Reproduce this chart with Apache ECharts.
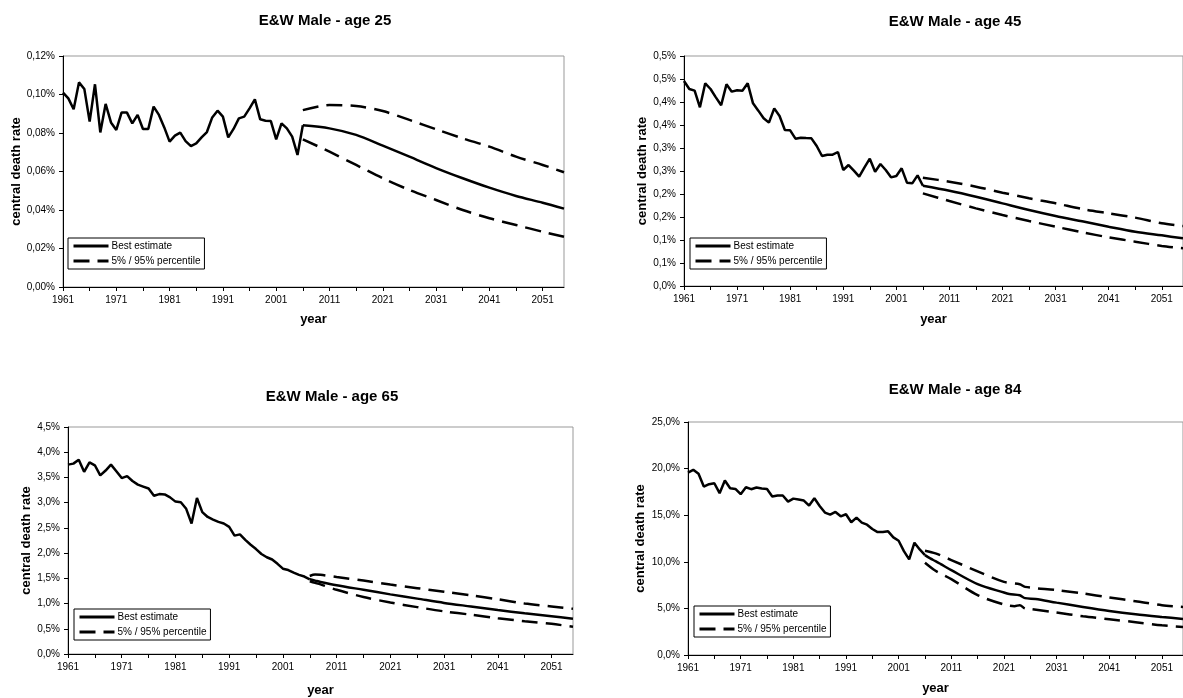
<!DOCTYPE html>
<html>
<head>
<meta charset="utf-8">
<title>E&amp;W Male - central death rate</title>
<script src="https://cdn.jsdelivr.net/npm/echarts@6/dist/echarts.min.js"></script>
<style>
  html, body { margin: 0; padding: 0; background: #fff; }
  #chart { width: 1183px; height: 698px; }
</style>
</head>
<body>
<div id="chart"></div>
<script>
// year categories 1961 - 2055
const years = [];
for (let y = 1961; y <= 2055; y++) years.push(String(y));

// observed rates 1961-2005 (in %)
const hist25 = [
  0.1010, 0.0980, 0.0923, 0.1063, 0.1029, 0.0859, 0.1053, 0.0803, 0.0951, 0.0855,
  0.0816, 0.0907, 0.0906, 0.0850, 0.0894, 0.0821, 0.0821, 0.0937, 0.0894, 0.0829,
  0.0755, 0.0786, 0.0802, 0.0758, 0.0732, 0.0746, 0.0777, 0.0805, 0.0881, 0.0916,
  0.0885, 0.0777, 0.0821, 0.0876, 0.0885, 0.0928, 0.0975, 0.0871, 0.0864, 0.0862,
  0.0767, 0.0850, 0.0824, 0.0781, 0.0686
];
// projections [year, %]
const best25 = [[2006, 0.0840], [2011, 0.0824], [2016, 0.0790], [2021, 0.0734], [2026, 0.0677],
  [2031, 0.0618], [2036, 0.0565], [2041, 0.0516], [2046, 0.0473], [2051, 0.0438], [2055, 0.0407]];
const upper25 = [[2006, 0.0919], [2011, 0.0945], [2016, 0.0940], [2021, 0.0914], [2026, 0.0868],
  [2031, 0.0819], [2036, 0.0772], [2041, 0.0729], [2046, 0.0677], [2051, 0.0634], [2055, 0.0596]];
const lower25 = [[2006, 0.0767], [2011, 0.0703], [2016, 0.0634], [2021, 0.0565], [2026, 0.0504],
  [2031, 0.0452], [2036, 0.0400], [2041, 0.0357], [2046, 0.0322], [2051, 0.0287], [2055, 0.0261]];

const hist45 = [
  0.4457, 0.4283, 0.4246, 0.3884, 0.4406, 0.4283, 0.4101, 0.3928, 0.4384, 0.4225,
  0.4254, 0.4246, 0.4406, 0.3971, 0.3812, 0.3645, 0.3551, 0.3862, 0.3696, 0.3391,
  0.3384, 0.3203, 0.3225, 0.3217, 0.3210, 0.3043, 0.2826, 0.2855, 0.2855, 0.2913,
  0.2522, 0.2630, 0.2507, 0.2377, 0.2580, 0.2768, 0.2485, 0.2652, 0.2522, 0.2362,
  0.2391, 0.2558, 0.2246, 0.2232, 0.2406
];
const best45 = [[2006, 0.2180], [2011, 0.2072], [2016, 0.1942], [2021, 0.1797], [2026, 0.1652],
  [2031, 0.1522], [2036, 0.1406], [2041, 0.1290], [2046, 0.1181], [2051, 0.1101], [2055, 0.1036]];
const upper45 = [[2006, 0.2355], [2011, 0.2268], [2016, 0.2159], [2021, 0.2029], [2026, 0.1906],
  [2031, 0.1797], [2036, 0.1674], [2041, 0.1580], [2046, 0.1486], [2051, 0.1362], [2055, 0.1304]];
const lower45 = [[2006, 0.2014], [2011, 0.1848], [2016, 0.1688], [2021, 0.1543], [2026, 0.1413],
  [2031, 0.1290], [2036, 0.1167], [2041, 0.1058], [2046, 0.0964], [2051, 0.0870], [2055, 0.0819]];

const hist65 = [
  3.754, 3.774, 3.851, 3.611, 3.799, 3.741, 3.540, 3.637, 3.754, 3.624,
  3.488, 3.527, 3.429, 3.358, 3.319, 3.280, 3.137, 3.170, 3.163, 3.105,
  3.021, 3.008, 2.878, 2.586, 3.092, 2.813, 2.716, 2.664, 2.619, 2.586,
  2.521, 2.346, 2.372, 2.262, 2.165, 2.080, 1.983, 1.918, 1.873, 1.788,
  1.691, 1.665, 1.613, 1.568, 1.535
];
const best65 = [[2006, 1.481], [2007, 1.455], [2008, 1.429], [2011, 1.364], [2016, 1.273], [2021, 1.182],
  [2026, 1.098], [2031, 1.013], [2036, 0.942], [2041, 0.871], [2046, 0.806], [2051, 0.747], [2055, 0.701]];
const upper65 = [[2006, 1.547], [2007, 1.575], [2008, 1.570], [2011, 1.527], [2016, 1.455], [2021, 1.377],
  [2026, 1.305], [2031, 1.234], [2036, 1.163], [2041, 1.085], [2046, 1.001], [2051, 0.942], [2055, 0.896]];
const lower65 = [[2006, 1.440], [2007, 1.410], [2008, 1.380], [2011, 1.273], [2016, 1.130], [2021, 1.020],
  [2026, 0.929], [2031, 0.845], [2036, 0.779], [2041, 0.708], [2046, 0.650], [2051, 0.598], [2055, 0.540]];

const hist84 = [
  19.58, 19.87, 19.44, 18.07, 18.33, 18.43, 17.36, 18.72, 17.89, 17.82,
  17.25, 18.00, 17.79, 17.97, 17.86, 17.82, 17.00, 17.11, 17.11, 16.46,
  16.78, 16.68, 16.57, 16.03, 16.82, 15.99, 15.28, 15.06, 15.35, 14.88,
  15.10, 14.24, 14.74, 14.20, 13.98, 13.52, 13.19, 13.19, 13.27, 12.62,
  12.26, 11.15, 10.26, 12.05, 11.33
];
const best84 = [[2006, 10.72], [2007, 10.36], [2008, 10.07], [2009, 9.75], [2011, 9.10], [2016, 7.60],
  [2021, 6.70], [2022, 6.55], [2024, 6.41], [2025, 6.10], [2027, 6.02], [2031, 5.62], [2036, 5.16],
  [2041, 4.73], [2046, 4.37], [2051, 4.08], [2055, 3.87]];
const upper84 = [[2006, 11.19], [2008, 10.90], [2011, 10.19], [2016, 8.97], [2021, 7.85], [2024, 7.60],
  [2025, 7.31], [2031, 6.96], [2036, 6.60], [2041, 6.17], [2046, 5.77], [2051, 5.34], [2055, 5.16]];
const lower84 = [[2006, 9.90], [2008, 9.04], [2011, 8.14], [2016, 6.42], [2021, 5.42], [2023, 5.24],
  [2024, 5.35], [2025, 4.99], [2026, 4.95], [2031, 4.56], [2036, 4.16], [2041, 3.84], [2046, 3.52],
  [2051, 3.19], [2055, 3.01]];

const FONT = 'Arial, "Liberation Sans", sans-serif';
const BEST = 'Best estimate';
const PCT = '5% / 95% percentile';

// layout of the four panels
const panels = [
  { title: 'E&W Male - age 25', hist: hist25, best: best25, upper: upper25, lower: lower25,
    max: 0.12, step: 0.02, dec: 2,
    grid: { left: 63, top: 56, width: 501, height: 231 },
    titleX: 325, titleY: 13, legendX: 68, legendY: 238, gapY: 40, gapX: 26 },
  { title: 'E&W Male - age 45', hist: hist45, best: best45, upper: upper45, lower: lower45,
    max: 0.5, step: 0.05, dec: 1,
    grid: { left: 684, top: 56, width: 501, height: 230 },
    titleX: 955, titleY: 14, legendX: 690, legendY: 238, gapY: 35, gapX: 27 },
  { title: 'E&W Male - age 65', hist: hist65, best: best65, upper: upper65, lower: lower65,
    max: 4.5, step: 0.5, dec: 1,
    grid: { left: 68, top: 427, width: 505, height: 231 },
    titleX: 332, titleY: 389, legendX: 74, legendY: 609, gapY: 35, gapX: 30 },
  { title: 'E&W Male - age 84', hist: hist84, best: best84, upper: upper84, lower: lower84,
    max: 25, step: 5, dec: 1,
    grid: { left: 688, top: 422, width: 501, height: 233 },
    titleX: 955, titleY: 382, legendX: 694, legendY: 606, gapY: 41, gapX: 27 }
];

const pairs = arr => arr.map(p => [String(p[0]), p[1]]);

// 0,12% style labels (Excel rounds half up)
function pctLabel(dec) {
  const f = Math.pow(10, dec);
  return v => (Math.round(v * f + 1e-9) / f).toFixed(dec).replace('.', ',') + '%';
}

const option = {
  animation: false,
  backgroundColor: '#fff',
  textStyle: { fontFamily: FONT, color: '#000' },
  title: [], grid: [], xAxis: [], yAxis: [], legend: [], series: []
};

panels.forEach((p, i) => {
  option.title.push({
    text: p.title, left: p.titleX, top: p.titleY, textAlign: 'center', padding: 0,
    textStyle: { fontFamily: FONT, fontSize: 15, fontWeight: 'bold', color: '#000' }
  });
  option.grid.push(Object.assign({
    show: true, borderColor: '#999', borderWidth: 1, backgroundColor: 'transparent'
  }, p.grid));
  option.xAxis.push({
    type: 'category', gridIndex: i, data: years, boundaryGap: false,
    name: 'year', nameLocation: 'middle', nameGap: p.gapX,
    nameTextStyle: { fontFamily: FONT, fontSize: 13, fontWeight: 'bold', color: '#000' },
    axisLine: { lineStyle: { color: '#000', width: 1 } },
    axisTick: { interval: 4, length: 4, lineStyle: { color: '#000' } },
    axisLabel: { interval: 9, margin: 8, fontFamily: FONT, fontSize: 10, color: '#000' },
    splitLine: { show: false }
  });
  option.yAxis.push({
    type: 'value', gridIndex: i, min: 0, max: p.max, interval: p.step,
    name: 'central death rate', nameLocation: 'middle', nameGap: p.gapY,
    nameTextStyle: { fontFamily: FONT, fontSize: 13, fontWeight: 'bold', color: '#000' },
    axisLine: { show: true, lineStyle: { color: '#000', width: 1 } },
    axisTick: { show: true, length: 4, lineStyle: { color: '#000' } },
    axisLabel: { margin: 8, fontFamily: FONT, fontSize: 10, color: '#000', formatter: pctLabel(p.dec) },
    splitLine: { show: false }
  });
  option.legend.push({
    data: [BEST, PCT], orient: 'vertical', left: p.legendX, top: p.legendY,
    padding: [3, 4, 3, 4], itemGap: 5, itemWidth: 35, itemHeight: 10,
    borderColor: '#000', borderWidth: 1, backgroundColor: '#fff', selectedMode: false,
    itemStyle: { opacity: 0 },
    lineStyle: { width: 3 },
    textStyle: { fontFamily: FONT, fontSize: 10, color: '#000', padding: [0, 0, 0, -2] }
  });

  const solid = { color: '#000', width: 2.5 };
  const dashed = { color: '#000', width: 2.5, type: [16, 8] };
  const bestPairs = pairs(p.best);
  const histPairs = p.hist.map((v, k) => [years[k], v]);
  const common = { type: 'line', xAxisIndex: i, yAxisIndex: i, symbol: 'none', silent: true };

  option.series.push(Object.assign({}, common, {
    name: BEST, data: histPairs.concat([bestPairs[0]]), lineStyle: solid, itemStyle: { color: '#000' }
  }));
  option.series.push(Object.assign({}, common, {
    name: BEST, data: bestPairs, smooth: 0.3, lineStyle: solid, itemStyle: { color: '#000' }
  }));
  option.series.push(Object.assign({}, common, {
    name: PCT, data: pairs(p.upper), smooth: 0.3, lineStyle: dashed, itemStyle: { color: '#000' }
  }));
  option.series.push(Object.assign({}, common, {
    name: PCT, data: pairs(p.lower), smooth: 0.3, lineStyle: dashed, itemStyle: { color: '#000' }
  }));
});

const chart = echarts.init(document.getElementById('chart'), null, { renderer: 'canvas' });
chart.setOption(option);
</script>
</body>
</html>
